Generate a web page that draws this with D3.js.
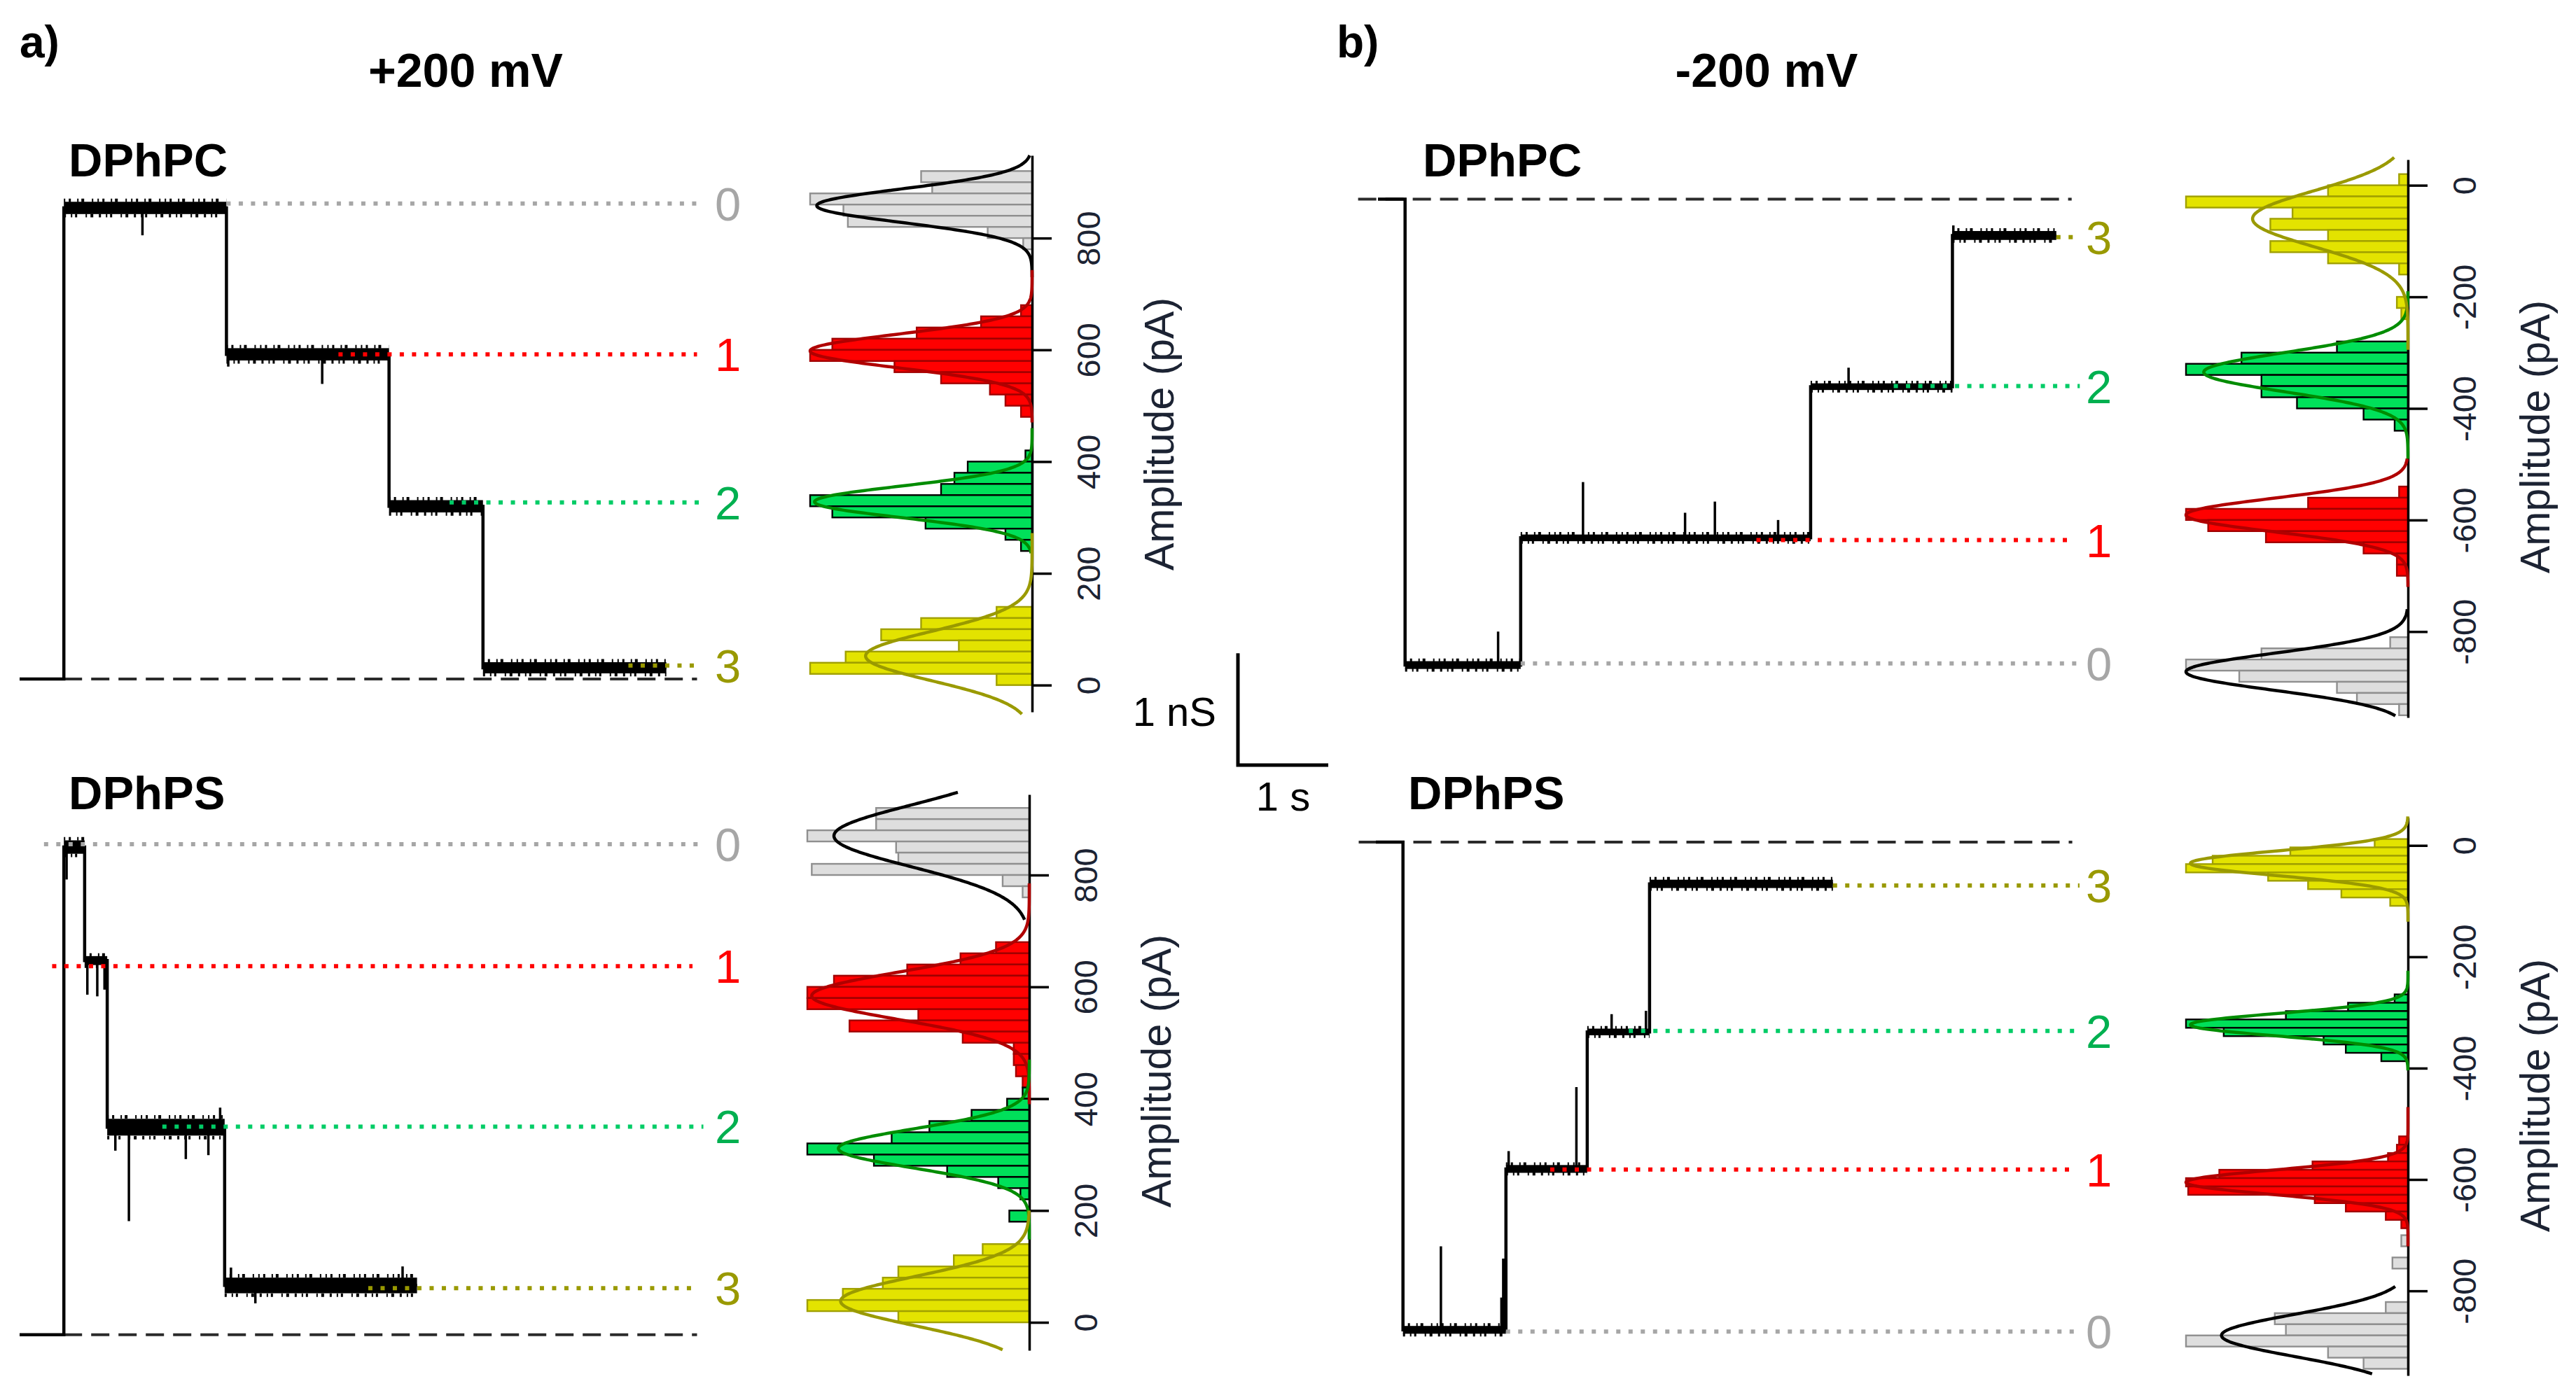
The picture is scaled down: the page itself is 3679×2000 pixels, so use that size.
<!DOCTYPE html>
<html>
<head>
<meta charset="utf-8">
<script src="https://cdn.jsdelivr.net/npm/d3@7"></script>
<style>
  html, body { margin: 0; padding: 0; background: #fff; }
  svg { display: block; }
</style>
</head>
<body>
<svg id="chart" width="3679" height="2000"></svg>
<script>
// ---------------- DATA ----------------
// Amplitude tick labels of the histogram axes
const posTicks = [0, 200, 400, 600, 800];
const negTicks = [0, -200, -400, -600, -800];
const stateLabels = ["0", "1", "2", "3"];

// ---- a) +200 mV, DPhPC : current trace (time in s, current in pA)
const pcPosTimes  = [0, 0.49, 2.29, 4.09, 5.13, 7.16];
const pcPosLevels = [11, 854, 592, 320, 31];
const pcPosNoise  = [0, 22, 22, 22, 20];
const pcPosSpikes = [[1.36, 805], [2.31, 570], [3.35, 539]];
const pcPosRef      = [862, 592, 327, 35];
const pcPosRefStart = [2.29, 3.53, 4.76, 6.74];
const pcPosRefEnd   = [7.50, 7.50, 7.59, 7.53];
const pcPosDashed   = [0.49, 7.50];
// histogram (bin centres in pA, relative counts), states 0..3
const pcPosBinW = [20, 20, 20, 20];
const pcPosCenters = [
  [910, 890, 870, 850, 830, 810, 790],
  [670, 650, 630, 610, 590, 570, 550, 530, 510, 490],
  [410, 390, 370, 350, 330, 310, 290, 270, 250],
  [130, 110, 90, 70, 50, 30, 10]
];
const pcPosCounts = [
  [50, 45, 100, 85, 83, 20, 4],
  [5, 23, 52, 90, 100, 62, 41, 19, 12, 5],
  [3, 29, 35, 41, 100, 90, 48, 12, 5],
  [16, 50, 68, 33, 84, 100, 16]
];
// Gaussian fits: [mean, sd, amplitude, from, to]
const pcPosFits = [
  [858, 30, 97, 730, 948],
  [598, 30, 100, 470, 743],
  [328, 28, 98, 236, 460],
  [52, 44, 75, -52, 272]
];

// ---- a) +200 mV, DPhPS
const psPosTimes  = [0, 0.49, 0.72, 0.97, 2.27, 4.40];
const psPosLevels = [-22, 850, 647, 349, 66];
const psPosNoise  = [0, 24, 16, 30, 28];
const psPosSpikes = [[0.52, 792], [0.75, 586], [0.86, 583], [0.94, 595], [1.06, 307], [1.21, 181],
                     [1.84, 292], [2.09, 299], [2.22, 384], [2.34, 98], [2.61, 34], [4.24, 100]];
const psPosRef      = [855, 637, 350, 61];
const psPosRefStart = [0.27, 0.36, 1.58, 3.86];
const psPosRefEnd   = [7.57, 7.45, 7.57, 7.50];
const psPosDashed   = [0.49, 7.50];
const psPosBinW = [20, 20, 20, 20];
const psPosCenters = [
  [910, 890, 870, 850, 830, 810, 790, 770],
  [670, 650, 630, 610, 590, 570, 550, 530, 510, 490, 470, 450, 430],
  [410, 390, 370, 350, 330, 310, 290, 270, 250, 230, 190],
  [130, 110, 90, 70, 50, 30, 10]
];
const psPosCounts = [
  [69, 69, 100, 60, 59, 98, 12, 3],
  [15, 31, 55, 88, 100, 100, 50, 81, 30, 7, 7, 6, 3],
  [3, 10, 26, 45, 62, 100, 70, 37, 14, 4, 9],
  [21, 34, 59, 66, 84, 100, 59]
];
const psPosFits = [
  [870, 55, 88, 720, 948],
  [584, 42, 98, 390, 785],
  [311, 35, 86, 148, 470],
  [38, 44, 85, -49, 200]
];

// ---- b) -200 mV, DPhPC
const pcNegTimes  = [0, 0.30, 1.58, 4.79, 6.36, 7.51];
const pcNegLevels = [-25, -860, -632, -361, -90];
const pcNegNoise  = [0, 14, 12, 12, 16];
const pcNegSpikes = [[1.33, -800], [2.27, -532], [3.40, -587], [3.73, -567], [4.43, -600],
                     [5.21, -327], [6.37, -72]];
const pcNegRef      = [-857, -636, -360, -93];
const pcNegRefStart = [1.58, 4.19, 5.71, 7.51];
const pcNegRefEnd   = [7.77, 7.71, 7.77, 7.77];
const pcNegDashed   = [-0.22, 7.68];
const pcNegBinW = [20, 20, 20, 20];
const pcNegCenters = [
  [-820, -840, -860, -880, -900, -920, -940],
  [-550, -570, -590, -610, -630, -650, -670, -690],
  [-290, -310, -330, -350, -370, -390, -410, -430],
  [10, -10, -30, -50, -70, -90, -110, -130, -150, -210, -230]
];
const pcNegCounts = [
  [8, 66, 100, 76, 32, 23, 4],
  [4, 45, 100, 90, 64, 20, 5, 5],
  [32, 75, 100, 66, 66, 50, 20, 6],
  [4, 36, 100, 52, 62, 36, 62, 36, 4, 5, 3]
];
const pcNegFits = [
  [-872, 33, 100, -951, -760],
  [-591, 30, 100, -720, -490],
  [-335, 35, 92, -490, -190],
  [-60, 50, 70, -295, 50]
];

// ---- b) -200 mV, DPhPS
const psNegTimes  = [0, 0.30, 1.44, 2.34, 3.03, 5.06];
const psNegLevels = [6, -870, -581, -335, -69];
const psNegNoise  = [0, 14, 14, 12, 15];
const psNegSpikes = [[0.72, -720], [1.39, -812], [1.41, -742], [1.43, -742], [1.47, -549],
                     [2.22, -434], [2.61, -303], [2.99, -297]];
const psNegRef      = [-873, -582, -333, -72];
const psNegRefStart = [1.44, 1.93, 2.80, 5.06];
const psNegRefEnd   = [7.79, 7.73, 7.79, 7.79];
const psNegDashed   = [-0.19, 7.71];
const psNegBinW = [20, 15, 15, 15];
const psNegCenters = [
  [-710, -750, -830, -850, -870, -890, -910, -930],
  [-530, -545, -560, -575, -590, -605, -620, -635, -650, -665, -680],
  [-275, -290, -305, -320, -335, -350, -365, -380],
  [4, -11, -26, -41, -56, -71, -86, -101]
];
const psNegCounts = [
  [3, 7, 10, 60, 55, 100, 36, 20],
  [4, 5, 9, 43, 85, 100, 99, 42, 28, 10, 3],
  [6, 27, 55, 100, 83, 38, 28, 12],
  [15, 53, 88, 100, 63, 45, 30, 8]
];
const psNegFits = [
  [-880, 38, 84, -949, -792],
  [-605, 22, 100, -720, -470],
  [-322, 20, 98, -404, -225],
  [-32, 22, 98, -137, 52]
];

// ---------------- STYLE / LAYOUT ----------------
const FONT = '"Liberation Sans", Arial, Helvetica, sans-serif';
const TXT = "#1c2333";
const PX_PER_S = 129;       // 1 s scale bar
const HIST_W = 317;         // width of 100 % count
const dotColor   = ["#a6a6a6", "#ff0000", "#00cc66", "#999900"];
const labelColor = ["#a6a6a6", "#ff0000", "#00b050", "#999900"];
const barFill    = ["#dedede", "#ff0000", "#00e05a", "#e3e300"];
const barStroke  = ["#8f8f8f", "#a00000", "#000000", "#a0a000"];
const fitColor   = ["#000000", "#b00000", "#008c00", "#9a9a00"];

const panels = [
  { name: "DPhPC", nameX: 98, nameY: 252, x0: 28,
    times: pcPosTimes, levels: pcPosLevels, noise: pcPosNoise, spikes: pcPosSpikes,
    ref: pcPosRef, refStart: pcPosRefStart, refEnd: pcPosRefEnd, dashed: pcPosDashed,
    binW: pcPosBinW, centers: pcPosCenters, counts: pcPosCounts, fits: pcPosFits,
    ampDomain: [-48, 948], ampRange: [1017, 222], axisX: 1474, labelX: 1021,
    ticks: posTicks, axisTitleY: 620 },
  { name: "DPhPS", nameX: 98, nameY: 1156, x0: 28,
    times: psPosTimes, levels: psPosLevels, noise: psPosNoise, spikes: psPosSpikes,
    ref: psPosRef, refStart: psPosRefStart, refEnd: psPosRefEnd, dashed: psPosDashed,
    binW: psPosBinW, centers: psPosCenters, counts: psPosCounts, fits: psPosFits,
    ampDomain: [-50, 944], ampRange: [1929, 1135], axisX: 1470, labelX: 1021,
    ticks: posTicks, axisTitleY: 1530 },
  { name: "DPhPC", nameX: 2032, nameY: 252, x0: 1968,
    times: pcNegTimes, levels: pcNegLevels, noise: pcNegNoise, spikes: pcNegSpikes,
    ref: pcNegRef, refStart: pcNegRefStart, refEnd: pcNegRefEnd, dashed: pcNegDashed,
    binW: pcNegBinW, centers: pcNegCenters, counts: pcNegCounts, fits: pcNegFits,
    ampDomain: [-954, 46], ampRange: [1025, 228], axisX: 3439, labelX: 2979,
    ticks: negTicks, axisTitleY: 624 },
  { name: "DPhPS", nameX: 2011, nameY: 1156, x0: 1965,
    times: psNegTimes, levels: psNegLevels, noise: psNegNoise, spikes: psNegSpikes,
    ref: psNegRef, refStart: psNegRefStart, refEnd: psNegRefEnd, dashed: psNegDashed,
    binW: psNegBinW, centers: psNegCenters, counts: psNegCounts, fits: psNegFits,
    ampDomain: [-952, 50], ampRange: [1965, 1168], axisX: 3439, labelX: 2979,
    ticks: negTicks, axisTitleY: 1565 }
];

const svg = d3.select("#chart").attr("font-family", FONT);
svg.append("rect").attr("width", 3679).attr("height", 2000).attr("fill", "#fff");

function drawPanel(p) {
  const y = d3.scaleLinear().domain(p.ampDomain).range(p.ampRange);
  const x = d3.scaleLinear().domain([0, 1]).range([p.x0, p.x0 + PX_PER_S]);
  const g = svg.append("g");

  // panel name
  g.append("text").attr("x", p.nameX).attr("y", p.nameY)
    .attr("font-size", 67).attr("font-weight", "bold").attr("fill", "#000").text(p.name);

  // dashed zero-current line
  const base = p.levels[0];
  g.append("line")
    .attr("x1", x(p.dashed[0])).attr("x2", x(p.dashed[1]))
    .attr("y1", y(base)).attr("y2", y(base))
    .attr("stroke", "#2b2b2b").attr("stroke-width", 4).attr("stroke-dasharray", "26 13");

  // step trace
  const pts = p.levels.map((L, i) => [p.times[i], L]);
  pts.push([p.times[p.times.length - 1], p.levels[p.levels.length - 1]]);
  g.append("path")
    .attr("d", d3.line().x(d => x(d[0])).y(d => y(d[1])).curve(d3.curveStepAfter)(pts))
    .attr("fill", "none").attr("stroke", "#000").attr("stroke-width", 4.5);

  // noise bands of each conductance level (solid core + ragged edges)
  const segs = p.levels.map((L, i) => ({ L, n: p.noise[i], t0: p.times[i], t1: p.times[i + 1] }))
    .filter(d => d.n > 0);
  g.selectAll(null).data(segs).join("rect")
    .attr("x", d => x(d.t0)).attr("width", d => x(d.t1) - x(d.t0))
    .attr("y", d => y(d.L + d.n / 2))
    .attr("height", d => y(d.L - d.n / 2) - y(d.L + d.n / 2))
    .attr("fill", "#000");
  [[+1, "2 5 3 9 2 4 4 11 2 6"], [-1, "3 7 2 4 3 12 2 5 4 8"]].forEach(([sgn, dash]) => {
    g.selectAll(null).data(segs).join("line")
      .attr("x1", d => x(d.t0)).attr("x2", d => x(d.t1))
      .attr("y1", d => y(d.L + sgn * d.n * 0.62)).attr("y2", d => y(d.L + sgn * d.n * 0.62))
      .attr("stroke", "#000").attr("stroke-width", 5).attr("stroke-dasharray", dash);
  });

  // spikes
  g.selectAll(null).data(p.spikes).join("line")
    .attr("x1", d => x(d[0])).attr("x2", d => x(d[0]))
    .attr("y1", d => y(p.levels[Math.max(0, d3.bisectRight(p.times, d[0]) - 1)]))
    .attr("y2", d => y(d[1]))
    .attr("stroke", "#000").attr("stroke-width", 3.5);

  // dotted reference lines + labels
  const refs = p.ref.map((v, i) => ({ v, i, s: p.refStart[i], e: p.refEnd[i] }));
  g.selectAll(null).data(refs).join("line")
    .attr("x1", d => x(d.s)).attr("x2", d => x(d.e))
    .attr("y1", d => y(d.v)).attr("y2", d => y(d.v))
    .attr("stroke", d => dotColor[d.i]).attr("stroke-width", 6)
    .attr("stroke-dasharray", "6 11.5");
  g.selectAll(null).data(refs).join("text")
    .attr("x", p.labelX).attr("y", d => y(d.v) + 24)
    .attr("font-size", 67).attr("fill", d => labelColor[d.i])
    .text(d => stateLabels[d.i]);

  // histogram
  const c = d3.scaleLinear().domain([0, 100]).range([p.axisX, p.axisX - HIST_W]);
  p.centers.forEach((cs, k) => {
    const bw = p.binW[k];
    g.append("g").selectAll("rect").data(cs.map((ctr, j) => ({ ctr, n: p.counts[k][j] })))
      .join("rect")
      .attr("x", d => c(d.n)).attr("width", d => p.axisX - c(d.n))
      .attr("y", d => y(d.ctr + bw / 2))
      .attr("height", d => y(d.ctr - bw / 2) - y(d.ctr + bw / 2))
      .attr("fill", barFill[k]).attr("stroke", barStroke[k]).attr("stroke-width", 2.4);
  });

  // axis
  const axis = d3.axisRight(y).tickValues(p.ticks).tickSize(28).tickSizeOuter(0)
    .tickFormat(d => String(d));
  const ag = g.append("g").attr("transform", `translate(${p.axisX},0)`).call(axis)
    .attr("font-size", 47).attr("font-family", FONT);
  ag.select(".domain").attr("stroke", "#000").attr("stroke-width", 3.5);
  ag.selectAll(".tick line").attr("stroke", "#000").attr("stroke-width", 3.5);
  ag.selectAll(".tick text")
    .attr("x", null).attr("dy", null).attr("fill", TXT)
    .attr("text-anchor", "middle")
    .attr("transform", "translate(97,0) rotate(-90)");
  g.append("text")
    .attr("transform", `translate(${p.axisX + 202},${p.axisTitleY}) rotate(-90)`)
    .attr("text-anchor", "middle").attr("font-size", 59).attr("fill", TXT)
    .text("Amplitude (pA)");

  // Gaussian fit curves
  p.fits.forEach((f, k) => {
    const [mu, sd, amp, lo, hi] = f;
    const pts = d3.range(lo, hi + 0.5, 1).map(a => [a, amp * Math.exp(-((a - mu) ** 2) / (2 * sd * sd))]);
    g.append("path")
      .attr("d", d3.line().x(d => c(d[1])).y(d => y(d[0]))(pts))
      .attr("fill", "none").attr("stroke", fitColor[k]).attr("stroke-width", 4.5);
  });
  return { x, y };
}

const scales = panels.map(drawPanel);

// panel letters and voltage titles
svg.append("text").attr("x", 28).attr("y", 82).attr("font-size", 64).attr("font-weight", "bold").text("a)");
svg.append("text").attr("x", 1909).attr("y", 82).attr("font-size", 64).attr("font-weight", "bold").text("b)");
svg.append("text").attr("x", 665).attr("y", 124).attr("text-anchor", "middle")
  .attr("font-size", 68).attr("font-weight", "bold").text("+200 mV");
svg.append("text").attr("x", 2523).attr("y", 124).attr("text-anchor", "middle")
  .attr("font-size", 68).attr("font-weight", "bold").text("-200 mV");

// scale bar: 1 nS (= 200 pA at 200 mV) and 1 s
const sy = scales[0].y, sx = scales[0].x;
const barLenY = sy(0) - sy(200);
const barLenX = sx(1) - sx(0);
const sbX = 1768, sbY = 1093;
svg.append("path")
  .attr("d", `M${sbX},${sbY - barLenY} L${sbX},${sbY} L${sbX + barLenX},${sbY}`)
  .attr("fill", "none").attr("stroke", "#000").attr("stroke-width", 5);
svg.append("text").attr("x", sbX - 31).attr("y", 1037).attr("text-anchor", "end")
  .attr("font-size", 58).text("1 nS");
svg.append("text").attr("x", sbX + barLenX / 2).attr("y", 1158).attr("text-anchor", "middle")
  .attr("font-size", 58).text("1 s");
</script>
</body>
</html>
